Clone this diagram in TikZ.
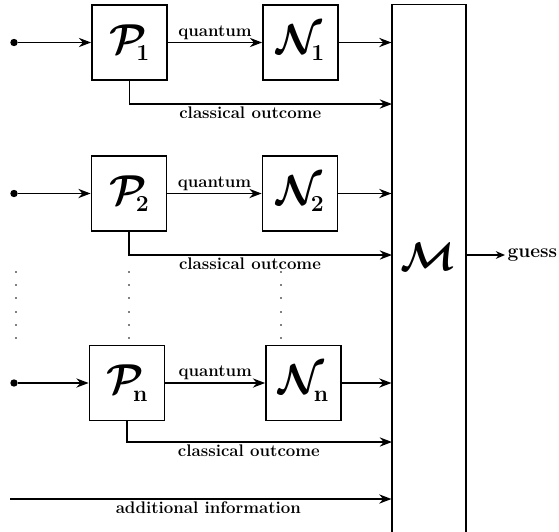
\documentclass[tikz,border=0pt]{standalone}
\usepackage{amsmath}
\usepackage{amssymb}
\usepackage{graphicx}
\usetikzlibrary{arrows.meta,calc}

\newcommand{\chan}[2]{\scalebox{1.1}{$\mathcal{#1}$}\kern-7pt\raisebox{-5pt}{\fontsize{15}{15}\selectfont\bfseries #2}}

\begin{document}
\begin{tikzpicture}[x=0.023cm, y=-0.023cm,
    blk/.style={draw, line width=1pt, minimum size=1.73cm, inner sep=0pt, font=\Huge\boldmath},
    bigblk/.style={draw, line width=1pt, minimum width=1.69cm, minimum height=12.9cm, inner sep=0pt},
    src/.style={circle, fill, inner sep=0pt, minimum size=0.17cm},
    arr/.style={line width=1.2pt, -{Stealth[length=8pt,width=6pt]}},
    lab/.style={font=\fontsize{11}{13}\selectfont\bfseries, inner sep=1.5pt}]
  \useasboundingbox (0,0) rectangle (559,531);
  % Boxes
  \node[blk] (P1) at (129.5,42.5) {\chan{P}{1}};
  \node[blk] (N1) at (300.5,42.5) {\chan{N}{1}};
  \node[blk] (P2) at (129,193.5) {\chan{P}{2}};
  \node[blk] (N2) at (300,193.5) {\chan{N}{2}};
  \node[blk] (Pn) at (127,383) {\chan{P}{n}};
  \node[blk] (Nn) at (303.5,383) {\chan{N}{n}};
  \node[bigblk] (M) at (429,285) {};
  \node[font=\Huge\boldmath] (Mlab) at (428,257) {\scalebox{1.05}{$\mathcal{M}$}};
  % Inputs
  \node[src] (s1) at (14,42.5) {};
  \node[src] (s2) at (14,193.5) {};
  \node[src] (sn) at (14,383) {};
  \draw[arr] (s1) -- (P1);
  \draw[arr] (s2) -- (P2);
  \draw[arr] (sn) -- (Pn);
  % Quantum channels
  \draw[arr] (P1) -- node[lab, above] {quantum} (N1);
  \draw[arr] (P2) -- node[lab, above] {quantum} (N2);
  \draw[arr] (Pn) -- node[lab, above] {quantum} (Nn);
  \draw[arr] (N1) -- (N1 -| M.west);
  \draw[arr] (N2) -- (N2 -| M.west);
  \draw[arr] (Nn) -- (Nn -| M.west);
  % Classical outcomes
  \coordinate (k1) at (392,104);
  \coordinate (k2) at (392,255);
  \coordinate (kn) at (392,442);
  \draw[arr] (P1.south) |- node[lab, below, pos=0.73] {classical outcome} (k1);
  \draw[arr] (P2.south) |- node[lab, below, pos=0.73] {classical outcome} (k2);
  \draw[arr] (Pn.south) |- node[lab, below, pos=0.73] {classical outcome} (kn);
  % Additional information
  \coordinate (a0) at (10,499);
  \draw[arr] (a0) -- node[lab, below, pos=0.52] {additional information} (a0 -| M.west);
  % Output
  \node[lab, font=\fontsize{12.5}{14}\selectfont\bfseries, anchor=west] (guess) at (505,255) {guess};
  \draw[line width=1pt, -{Stealth[length=6pt,width=5pt]}] (M.east |- guess) -- (guess);
  % Vertical dots
  \foreach \x in {16,129,281}
    \foreach \y in {272,285,298,312,325,338}
      \fill (\x,\y) circle (0.6pt);
\end{tikzpicture}
\end{document}
